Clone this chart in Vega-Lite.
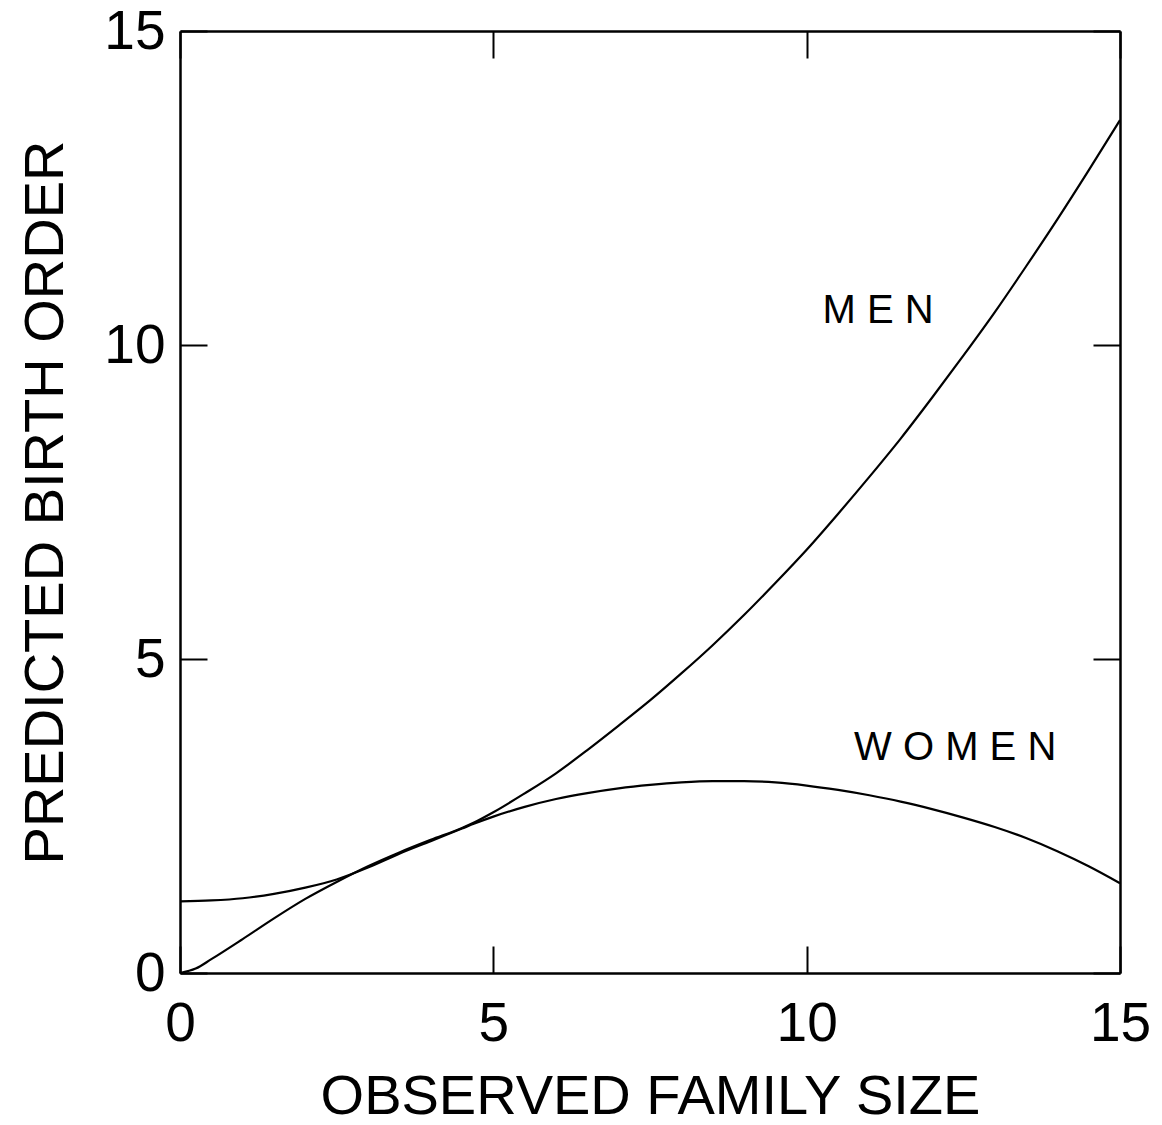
{
  "$schema": "https://vega.github.io/schema/vega-lite/v6.json",
  "width": 940,
  "height": 942,
  "autosize": {"type": "none"},
  "padding": {"left": 180, "top": 31, "right": 42, "bottom": 152},
  "background": "white",
  "config": {
    "view": {"stroke": null},
    "font": "Liberation Sans",
    "axis": {
      "grid": false,
      "domainColor": "black",
      "domainWidth": 2.5,
      "tickColor": "black",
      "tickWidth": 2,
      "tickSize": -27,
      "labelFont": "Liberation Sans",
      "labelFontSize": 55,
      "labelColor": "black",
      "titleFont": "Liberation Sans",
      "titleFontSize": 56,
      "titleFontWeight": "normal",
      "titleColor": "black",
      "labelFlush": false,
      "labelOverlap": false
    }
  },
  "datasets": {
    "curves": [
      {"sex": "MEN", "size": 0, "order": 0},
      {"sex": "MEN", "size": 0.25, "order": 0.07},
      {"sex": "MEN", "size": 0.5, "order": 0.22},
      {"sex": "MEN", "size": 1, "order": 0.54},
      {"sex": "MEN", "size": 1.5, "order": 0.87},
      {"sex": "MEN", "size": 2, "order": 1.18},
      {"sex": "MEN", "size": 2.5, "order": 1.45},
      {"sex": "MEN", "size": 3, "order": 1.7},
      {"sex": "MEN", "size": 3.5, "order": 1.92},
      {"sex": "MEN", "size": 4, "order": 2.12},
      {"sex": "MEN", "size": 4.5, "order": 2.31},
      {"sex": "MEN", "size": 4.7, "order": 2.4},
      {"sex": "MEN", "size": 5, "order": 2.56},
      {"sex": "MEN", "size": 5.5, "order": 2.86},
      {"sex": "MEN", "size": 6, "order": 3.18},
      {"sex": "MEN", "size": 6.5, "order": 3.55},
      {"sex": "MEN", "size": 7, "order": 3.94},
      {"sex": "MEN", "size": 7.5, "order": 4.34},
      {"sex": "MEN", "size": 8, "order": 4.77},
      {"sex": "MEN", "size": 8.5, "order": 5.22},
      {"sex": "MEN", "size": 9, "order": 5.7},
      {"sex": "MEN", "size": 9.5, "order": 6.21},
      {"sex": "MEN", "size": 10, "order": 6.74},
      {"sex": "MEN", "size": 10.5, "order": 7.31},
      {"sex": "MEN", "size": 11, "order": 7.9},
      {"sex": "MEN", "size": 11.5, "order": 8.51},
      {"sex": "MEN", "size": 12, "order": 9.16},
      {"sex": "MEN", "size": 12.5, "order": 9.83},
      {"sex": "MEN", "size": 13, "order": 10.52},
      {"sex": "MEN", "size": 13.5, "order": 11.25},
      {"sex": "MEN", "size": 14, "order": 12.0},
      {"sex": "MEN", "size": 14.5, "order": 12.78},
      {"sex": "MEN", "size": 15, "order": 13.58},
      {"sex": "WOMEN", "size": 0, "order": 1.14},
      {"sex": "WOMEN", "size": 0.5, "order": 1.155},
      {"sex": "WOMEN", "size": 1, "order": 1.19},
      {"sex": "WOMEN", "size": 1.5, "order": 1.26},
      {"sex": "WOMEN", "size": 2, "order": 1.36},
      {"sex": "WOMEN", "size": 2.5, "order": 1.49},
      {"sex": "WOMEN", "size": 3, "order": 1.68},
      {"sex": "WOMEN", "size": 3.5, "order": 1.9},
      {"sex": "WOMEN", "size": 4, "order": 2.1},
      {"sex": "WOMEN", "size": 4.5, "order": 2.3},
      {"sex": "WOMEN", "size": 4.7, "order": 2.38},
      {"sex": "WOMEN", "size": 5, "order": 2.49},
      {"sex": "WOMEN", "size": 5.5, "order": 2.645},
      {"sex": "WOMEN", "size": 6, "order": 2.77},
      {"sex": "WOMEN", "size": 6.5, "order": 2.865},
      {"sex": "WOMEN", "size": 7, "order": 2.94},
      {"sex": "WOMEN", "size": 7.5, "order": 2.995},
      {"sex": "WOMEN", "size": 8, "order": 3.035},
      {"sex": "WOMEN", "size": 8.5, "order": 3.055},
      {"sex": "WOMEN", "size": 9, "order": 3.055},
      {"sex": "WOMEN", "size": 9.5, "order": 3.035},
      {"sex": "WOMEN", "size": 10, "order": 2.985},
      {"sex": "WOMEN", "size": 10.5, "order": 2.915},
      {"sex": "WOMEN", "size": 11, "order": 2.83},
      {"sex": "WOMEN", "size": 11.5, "order": 2.73},
      {"sex": "WOMEN", "size": 12, "order": 2.61},
      {"sex": "WOMEN", "size": 12.5, "order": 2.475},
      {"sex": "WOMEN", "size": 13, "order": 2.325},
      {"sex": "WOMEN", "size": 13.5, "order": 2.15},
      {"sex": "WOMEN", "size": 14, "order": 1.94},
      {"sex": "WOMEN", "size": 14.5, "order": 1.7},
      {"sex": "WOMEN", "size": 15, "order": 1.43}
    ],
    "labels": [
      {"label": "M E N", "size": 11.14, "order": 10.35},
      {"label": "W O M E N", "size": 12.37, "order": 3.39}
    ]
  },
  "layer": [
    {
      "data": {"name": "curves"},
      "mark": {"type": "line", "color": "black", "strokeWidth": 2.2, "interpolate": "monotone"},
      "encoding": {
        "x": {
          "field": "size", "type": "quantitative",
          "scale": {"domain": [0, 15], "nice": false, "zero": false},
          "axis": {"orient": "bottom", "values": [0, 5, 10, 15], "title": "OBSERVED FAMILY SIZE", "labelBaseline": "alphabetic", "labelPadding": 94, "titleY": 140, "titleBaseline": "alphabetic"}
        },
        "y": {
          "field": "order", "type": "quantitative",
          "scale": {"domain": [0, 15], "nice": false, "zero": false},
          "axis": {"orient": "left", "values": [0, 5, 10, 15], "title": "PREDICTED BIRTH ORDER", "labelPadding": 42, "titleX": -118, "titleBaseline": "alphabetic"}
        },
        "detail": {"field": "sex"}
      }
    },
    {
      "data": {"name": "labels"},
      "mark": {"type": "text", "fontSize": 40, "font": "Liberation Sans", "baseline": "alphabetic", "align": "center", "color": "black"},
      "encoding": {
        "x": {
          "field": "size", "type": "quantitative",
          "scale": {"domain": [0, 15], "nice": false, "zero": false},
          "axis": {"orient": "top", "values": [0, 5, 10, 15], "labels": false, "title": null}
        },
        "y": {
          "field": "order", "type": "quantitative",
          "scale": {"domain": [0, 15], "nice": false, "zero": false},
          "axis": {"orient": "right", "values": [0, 5, 10, 15], "labels": false, "title": null}
        },
        "text": {"field": "label"}
      }
    }
  ],
  "resolve": {"axis": {"x": "independent", "y": "independent"}}
}
